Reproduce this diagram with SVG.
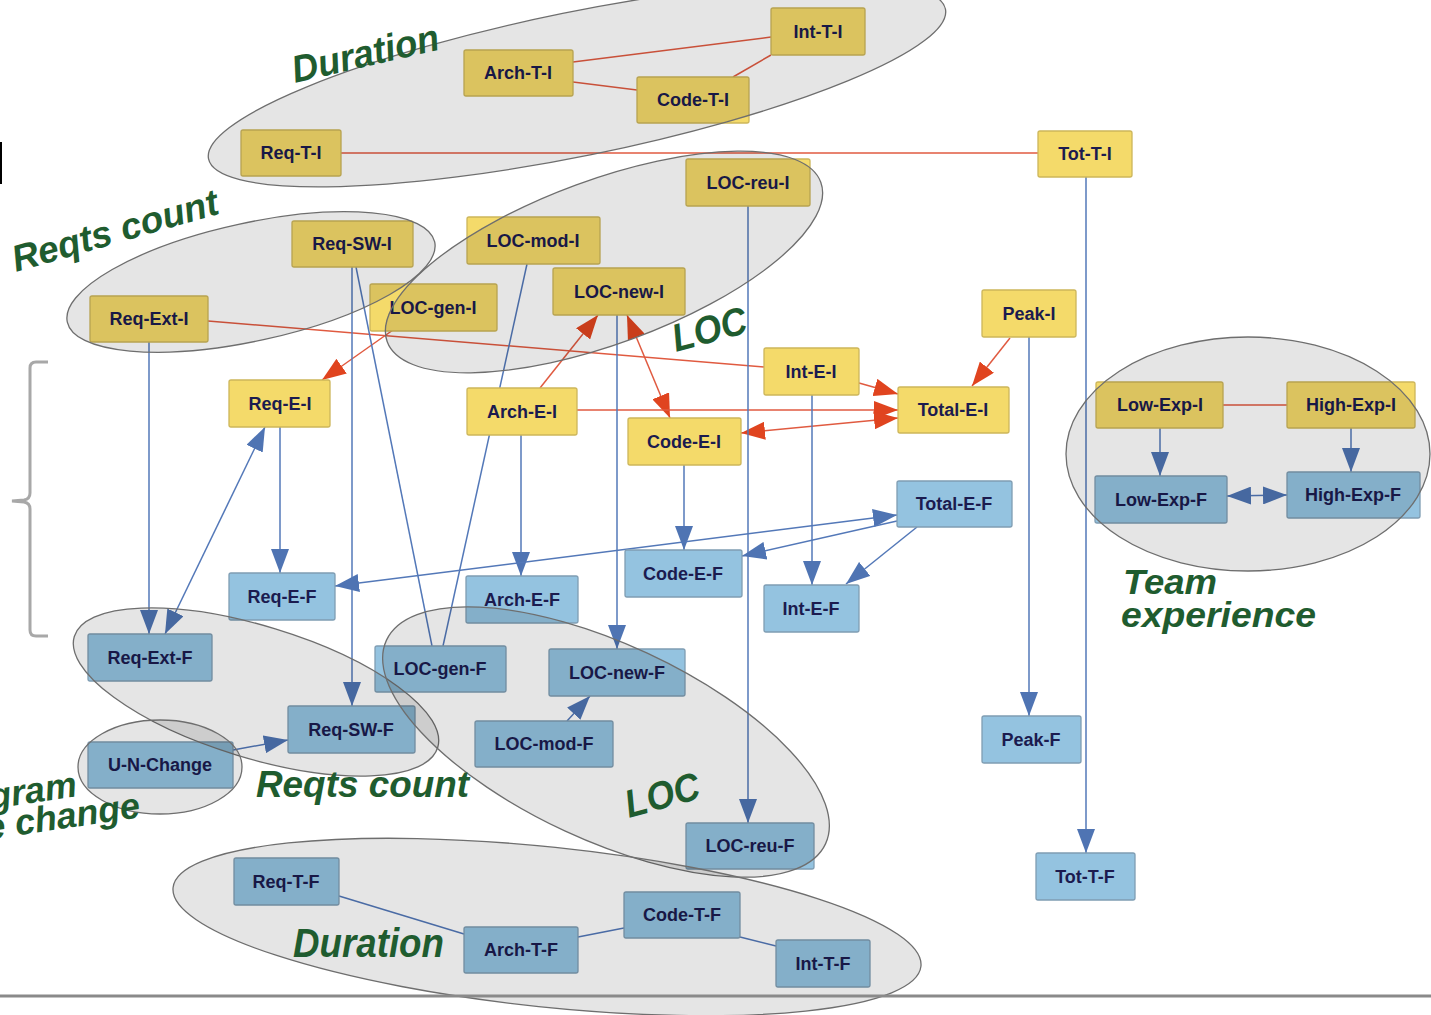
<svg xmlns="http://www.w3.org/2000/svg" width="1431" height="1015" viewBox="0 0 1431 1015">
<style>
.ny rect{fill:#f4da6a;stroke:#cdb65a;stroke-width:1.3}
.nb rect{fill:#94c3e0;stroke:#7f9db3;stroke-width:1.3}
.ny text,.nb text{font-family:"Liberation Sans",Arial,sans-serif;font-weight:bold;font-size:18px;fill:#1b1b4f;text-anchor:middle}
.er{stroke:#e05a40;stroke-width:1.5;fill:none}
.eb{stroke:#5378b8;stroke-width:1.5;fill:none}
.cl{fill:#000;fill-opacity:0.1;stroke:#6e6e6e;stroke-width:1.3}
.gl{font-family:"Liberation Sans",Arial,sans-serif;font-weight:bold;font-style:italic;fill:#1f5c2f}
</style>
<defs>
<marker id="ar" viewBox="0 0 24 18" refX="24" refY="9" markerWidth="24" markerHeight="18" markerUnits="userSpaceOnUse" orient="auto-start-reverse"><path d="M0,0 L24,9 L0,18 Z" fill="#e0441f"/></marker>
<marker id="ab" viewBox="0 0 24 18" refX="24" refY="9" markerWidth="24" markerHeight="18" markerUnits="userSpaceOnUse" orient="auto-start-reverse"><path d="M0,0 L24,9 L0,18 Z" fill="#4f74b3"/></marker>
</defs>
<rect x="0" y="142" width="2" height="42" fill="#000"/>
<path d="M48,362 H36 Q30,362 30,368 V493 Q30,499 24,500 L12,501 L24,502 Q30,503 30,509 V630 Q30,636 36,636 H48" fill="none" stroke="#a8a8a8" stroke-width="3"/>
<g id="connectors">
<path class="er" d="M573,62 L771,37"/>
<path class="er" d="M573,82 L637,90"/>
<path class="er" d="M733,77 L771,55"/>
<path class="er" d="M341,153 L1038,153"/>
<path class="er" d="M208,321 L764,367"/>
<path class="er" d="M393,330 L322,380" marker-end="url(#ar)"/>
<path class="er" d="M540,388 L598,315" marker-end="url(#ar)"/>
<path class="er" d="M627,315 L670,418" marker-start="url(#ar)" marker-end="url(#ar)"/>
<path class="er" d="M577,410 L898,410" marker-end="url(#ar)"/>
<path class="er" d="M859,383 L898,394" marker-end="url(#ar)"/>
<path class="er" d="M1010,338 L972,386" marker-end="url(#ar)"/>
<path class="er" d="M898,418 L741,433" marker-start="url(#ar)" marker-end="url(#ar)"/>
<path class="er" d="M1223,405 L1287,405"/>
<path class="eb" d="M149,342 L149,634" marker-end="url(#ab)"/>
<path class="eb" d="M265,427 L165,634" marker-start="url(#ab)" marker-end="url(#ab)"/>
<path class="eb" d="M280,427 L280,573" marker-end="url(#ab)"/>
<path class="eb" d="M352,267 L352,706" marker-end="url(#ab)"/>
<path class="eb" d="M356,267 L432,646"/>
<path class="eb" d="M527,264 L443,646"/>
<path class="eb" d="M521,435 L521,576" marker-end="url(#ab)"/>
<path class="eb" d="M617,315 L617,649" marker-end="url(#ab)"/>
<path class="eb" d="M748,206 L748,823" marker-end="url(#ab)"/>
<path class="eb" d="M684,465 L684,550" marker-end="url(#ab)"/>
<path class="eb" d="M812,395 L812,585" marker-end="url(#ab)"/>
<path class="eb" d="M897,515 L335,586" marker-start="url(#ab)" marker-end="url(#ab)"/>
<path class="eb" d="M897,521 L742,556" marker-end="url(#ab)"/>
<path class="eb" d="M917,527 L846,584" marker-end="url(#ab)"/>
<path class="eb" d="M1160,428 L1160,476" marker-end="url(#ab)"/>
<path class="eb" d="M1351,428 L1351,472" marker-end="url(#ab)"/>
<path class="eb" d="M1227,496 L1287,495" marker-start="url(#ab)" marker-end="url(#ab)"/>
<path class="eb" d="M1029,337 L1029,716" marker-end="url(#ab)"/>
<path class="eb" d="M1086,177 L1086,853" marker-end="url(#ab)"/>
<path class="eb" d="M233,750 L288,740" marker-end="url(#ab)"/>
<path class="eb" d="M567,721 L590,696" marker-end="url(#ab)"/>
<path class="eb" d="M339,896 L464,934"/>
<path class="eb" d="M578,937 L624,928"/>
<path class="eb" d="M740,937 L776,946"/>
</g>
<g id="n-int-t-i" class="ny"><rect x="771" y="8" width="94" height="47" rx="2"/><text x="818" y="38">Int-T-I</text></g>
<g id="n-arch-t-i" class="ny"><rect x="464" y="50" width="109" height="46" rx="2"/><text x="518" y="79">Arch-T-I</text></g>
<g id="n-code-t-i" class="ny"><rect x="637" y="77" width="112" height="46" rx="2"/><text x="693" y="106">Code-T-I</text></g>
<g id="n-req-t-i" class="ny"><rect x="241" y="130" width="100" height="46" rx="2"/><text x="291" y="159">Req-T-I</text></g>
<g id="n-tot-t-i" class="ny"><rect x="1038" y="131" width="94" height="46" rx="2"/><text x="1085" y="160">Tot-T-I</text></g>
<g id="n-loc-reu-i" class="ny"><rect x="686" y="159" width="124" height="47" rx="2"/><text x="748" y="189">LOC-reu-I</text></g>
<g id="n-req-sw-i" class="ny"><rect x="292" y="221" width="121" height="46" rx="2"/><text x="352" y="250">Req-SW-I</text></g>
<g id="n-loc-mod-i" class="ny"><rect x="467" y="217" width="133" height="47" rx="2"/><text x="533" y="247">LOC-mod-I</text></g>
<g id="n-loc-new-i" class="ny"><rect x="553" y="268" width="132" height="47" rx="2"/><text x="619" y="298">LOC-new-I</text></g>
<g id="n-loc-gen-i" class="ny"><rect x="370" y="284" width="127" height="47" rx="2"/><text x="433" y="314">LOC-gen-I</text></g>
<g id="n-req-ext-i" class="ny"><rect x="90" y="296" width="118" height="46" rx="2"/><text x="149" y="325">Req-Ext-I</text></g>
<g id="n-peak-i" class="ny"><rect x="982" y="290" width="94" height="47" rx="2"/><text x="1029" y="320">Peak-I</text></g>
<g id="n-int-e-i" class="ny"><rect x="764" y="348" width="95" height="47" rx="2"/><text x="811" y="378">Int-E-I</text></g>
<g id="n-req-e-i" class="ny"><rect x="229" y="380" width="101" height="47" rx="2"/><text x="280" y="410">Req-E-I</text></g>
<g id="n-arch-e-i" class="ny"><rect x="467" y="388" width="110" height="47" rx="2"/><text x="522" y="418">Arch-E-I</text></g>
<g id="n-total-e-i" class="ny"><rect x="898" y="387" width="111" height="46" rx="2"/><text x="953" y="416">Total-E-I</text></g>
<g id="n-code-e-i" class="ny"><rect x="628" y="418" width="113" height="47" rx="2"/><text x="684" y="448">Code-E-I</text></g>
<g id="n-low-exp-i" class="ny"><rect x="1096" y="382" width="127" height="46" rx="2"/><text x="1160" y="411">Low-Exp-I</text></g>
<g id="n-high-exp-i" class="ny"><rect x="1287" y="382" width="128" height="46" rx="2"/><text x="1351" y="411">High-Exp-I</text></g>
<g id="n-low-exp-f" class="nb"><rect x="1095" y="476" width="132" height="47" rx="2"/><text x="1161" y="506">Low-Exp-F</text></g>
<g id="n-high-exp-f" class="nb"><rect x="1287" y="472" width="133" height="46" rx="2"/><text x="1353" y="501">High-Exp-F</text></g>
<g id="n-total-e-f" class="nb"><rect x="897" y="481" width="115" height="46" rx="2"/><text x="954" y="510">Total-E-F</text></g>
<g id="n-code-e-f" class="nb"><rect x="625" y="550" width="117" height="47" rx="2"/><text x="683" y="580">Code-E-F</text></g>
<g id="n-req-e-f" class="nb"><rect x="229" y="573" width="106" height="47" rx="2"/><text x="282" y="603">Req-E-F</text></g>
<g id="n-arch-e-f" class="nb"><rect x="466" y="576" width="112" height="47" rx="2"/><text x="522" y="606">Arch-E-F</text></g>
<g id="n-int-e-f" class="nb"><rect x="764" y="585" width="95" height="47" rx="2"/><text x="811" y="615">Int-E-F</text></g>
<g id="n-req-ext-f" class="nb"><rect x="88" y="634" width="124" height="47" rx="2"/><text x="150" y="664">Req-Ext-F</text></g>
<g id="n-loc-gen-f" class="nb"><rect x="375" y="646" width="131" height="46" rx="2"/><text x="440" y="675">LOC-gen-F</text></g>
<g id="n-loc-new-f" class="nb"><rect x="549" y="649" width="136" height="47" rx="2"/><text x="617" y="679">LOC-new-F</text></g>
<g id="n-req-sw-f" class="nb"><rect x="288" y="706" width="127" height="47" rx="2"/><text x="351" y="736">Req-SW-F</text></g>
<g id="n-loc-mod-f" class="nb"><rect x="475" y="721" width="138" height="46" rx="2"/><text x="544" y="750">LOC-mod-F</text></g>
<g id="n-u-n-change" class="nb"><rect x="88" y="742" width="145" height="46" rx="2"/><text x="160" y="771">U-N-Change</text></g>
<g id="n-peak-f" class="nb"><rect x="982" y="716" width="99" height="47" rx="2"/><text x="1031" y="746">Peak-F</text></g>
<g id="n-loc-reu-f" class="nb"><rect x="686" y="823" width="128" height="46" rx="2"/><text x="750" y="852">LOC-reu-F</text></g>
<g id="n-tot-t-f" class="nb"><rect x="1036" y="853" width="99" height="47" rx="2"/><text x="1085" y="883">Tot-T-F</text></g>
<g id="n-req-t-f" class="nb"><rect x="234" y="858" width="105" height="47" rx="2"/><text x="286" y="888">Req-T-F</text></g>
<g id="n-code-t-f" class="nb"><rect x="624" y="892" width="116" height="46" rx="2"/><text x="682" y="921">Code-T-F</text></g>
<g id="n-arch-t-f" class="nb"><rect x="464" y="927" width="114" height="46" rx="2"/><text x="521" y="956">Arch-T-F</text></g>
<g id="n-int-t-f" class="nb"><rect x="776" y="940" width="94" height="47" rx="2"/><text x="823" y="970">Int-T-F</text></g>
<g id="clusters">
<ellipse class="cl" cx="577" cy="84" rx="376" ry="72" transform="rotate(-11.5 577 84)"/>
<ellipse class="cl" cx="251" cy="282" rx="188" ry="59" transform="rotate(-12.3 251 282)"/>
<ellipse class="cl" cx="604" cy="262" rx="231" ry="82" transform="rotate(-20.2 604 262)"/>
<ellipse class="cl" cx="1248" cy="454" rx="182" ry="117"/>
<ellipse class="cl" cx="256" cy="692" rx="190" ry="66" transform="rotate(17 256 692)"/>
<ellipse class="cl" cx="160" cy="767" rx="82" ry="47"/>
<ellipse class="cl" cx="606" cy="742" rx="242" ry="98" transform="rotate(24.9 606 742)"/>
<ellipse class="cl" cx="547" cy="927" rx="376" ry="80" transform="rotate(6 547 927)"/>
</g>
<line x1="0" y1="996" x2="1431" y2="996" stroke="#8a8a8a" stroke-width="3"/>
<g id="labels">
<text class="gl" font-size="38" textLength="150" lengthAdjust="spacingAndGlyphs" transform="translate(295,83) rotate(-13)">Duration</text>
<text class="gl" font-size="37" textLength="213" lengthAdjust="spacingAndGlyphs" transform="translate(16,272) rotate(-16)">Reqts count</text>
<text class="gl" font-size="39" textLength="76" lengthAdjust="spacingAndGlyphs" transform="translate(676,352) rotate(-15)">LOC</text>
<text class="gl" font-size="35" textLength="94" lengthAdjust="spacingAndGlyphs" x="1123" y="594">Team</text>
<text class="gl" font-size="35" textLength="195" lengthAdjust="spacingAndGlyphs" x="1121" y="627">experience</text>
<text class="gl" font-size="36" textLength="213" lengthAdjust="spacingAndGlyphs" x="256" y="797">Reqts count</text>
<text class="gl" font-size="39" textLength="76" lengthAdjust="spacingAndGlyphs" transform="translate(629,818) rotate(-15.5)">LOC</text>
<text class="gl" font-size="40" textLength="151" lengthAdjust="spacingAndGlyphs" x="293" y="957">Duration</text>
<text class="gl" font-size="36" transform="translate(-9,809) rotate(-8.5)">gram</text>
<text class="gl" font-size="36" transform="translate(-13,840) rotate(-8.5)">e change</text>
</g>
</svg>
